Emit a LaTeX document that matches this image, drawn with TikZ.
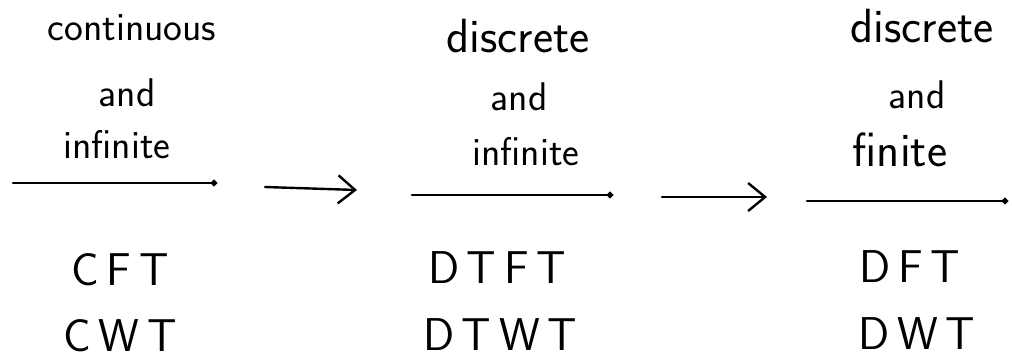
\documentclass[tikz,border=0pt]{standalone}
\usepackage{tikz}
\usetikzlibrary{arrows.meta,positioning}

\begin{document}
\begin{tikzpicture}[x=1pt, y=-1pt, line cap=round, line join=round]
  \path[use as bounding box] (0,0) rectangle (1012,360); % reference canvas, y down
  \tikzset{
    word/.style={inner sep=0pt, font=\sffamily\fontsize{40}{44}\selectfont},
    bigword/.style={inner sep=0pt, font=\sffamily\fontsize{48}{52}\selectfont},
    acro/.style={inner sep=0pt, font=\sffamily\fontsize{46}{50}\selectfont},
    bar/.style={line width=2.6pt, -{Circle[length=6pt]}},
    flow/.style={line width=2.4pt, -{Straight Barb[length=17pt,width=28pt,line width=2.4pt]}}
  }

  % column 1: continuous and infinite
  \node[word] (cont)  at (132,28)  {continuous};
  \node[word] (and1)  at (127,93)  {and};
  \node[word] (inf1)  at (117,145) {infinite};
  \coordinate (b1s) at (13,183);
  \coordinate (b1e) at (217,183);
  \draw[bar] (b1s) -- (b1e);
  \node[acro] (cft) at (120,270) {C\,F\,T};
  \node[acro] (cwt) at (120,336) {C\,W\,T};

  % column 2: discrete and infinite
  \node[bigword] (disc2) at (518,36)  {discrete};
  \node[word] (and2)  at (519,97)  {and};
  \node[word] (inf2)  at (526,152) {infinite};
  \coordinate (b2s) at (412,195);
  \coordinate (b2e) at (613,195);
  \draw[bar] (b2s) -- (b2e);
  \node[acro] (dtft) at (497,268) {D\,T\,F\,T};
  \node[acro] (dtwt) at (500,335) {D\,T\,W\,T};

  % column 3: discrete and finite
  \node[bigword] (disc3) at (922,26)  {discrete};
  \node[word] (and3)  at (917,95)  {and};
  \node[bigword] (fin3)  at (900,150) {finite};
  \coordinate (b3s) at (807,201);
  \coordinate (b3e) at (1008,201);
  \draw[bar] (b3s) -- (b3e);
  \node[acro] (dft) at (910,267) {D\,F\,T};
  \node[acro] (dwt) at (917,334) {D\,W\,T};

  % arrows between the columns
  \coordinate (a1s) at (265,187);
  \coordinate (a1e) at (357,190);
  \coordinate (a2s) at (662,197);
  \coordinate (a2e) at (767,197);
  \draw[flow] (a1s) -- (a1e);
  \draw[flow] (a2s) -- (a2e);
\end{tikzpicture}
\end{document}
